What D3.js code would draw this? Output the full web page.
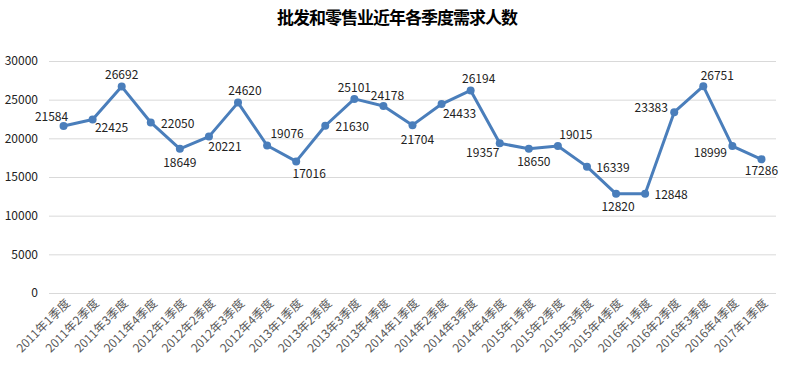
<!DOCTYPE html>
<html>
<head>
<meta charset="utf-8">
<script src="https://cdn.jsdelivr.net/npm/d3@7"></script>
<style>
  body { margin: 0; background: #fff; }
  text { font-family: "Noto Sans CJK SC", "Noto Sans", sans-serif; }
</style>
</head>
<body>
<div id="chart"></div>
<script>
// chart data
let quarters = ["2011年1季度", "2011年2季度", "2011年3季度", "2011年4季度",
    "2012年1季度", "2012年2季度", "2012年3季度", "2012年4季度",
    "2013年1季度", "2013年2季度", "2013年3季度", "2013年4季度",
    "2014年1季度", "2014年2季度", "2014年3季度", "2014年4季度",
    "2015年1季度", "2015年2季度", "2015年3季度", "2015年4季度",
    "2016年1季度", "2016年2季度", "2016年3季度", "2016年4季度",
    "2017年1季度"];
let demand = [21584, 22425, 26692, 22050, 18649, 20221, 24620, 19076, 17016,
    21630, 25101, 24178, 21704, 24433, 26194, 19357, 18650, 19015, 16339,
    12820, 12848, 23383, 26751, 18999, 17286];
let yTicks = [0, 5000, 10000, 15000, 20000, 25000, 30000];

// where each data label sits relative to its point
let labelOffsets = [[-12, -11], [19, 7], [0, -13], [27, 0], [0, 13], [16, 9],
    [7, -13], [20, -13], [13, 11], [27, 0], [0, -12], [4, -12], [5, 13],
    [18, 8], [8, -13], [-17, 8], [5, 12], [18, -12], [26, 0], [2, 12],
    [26, 0], [-23, -6], [14, -12], [-22, 5], [0, 10]];

let margin = {top: 61, right: 21, bottom: 78, left: 49},
    width = 797 - margin.left - margin.right,
    height = 371 - margin.top - margin.bottom;

let svg = d3.select("#chart")
    .append("svg")
    .attr("width", 797)
    .attr("height", 371);

// title
svg.append("text")
    .attr("x", 277)
    .attr("y", 24)
    .attr("textLength", 241)
    .attr("lengthAdjust", "spacing")
    .style("font-size", "17px")
    .style("font-weight", "bold")
    .attr("fill", "#000")
    .text("批发和零售业近年各季度需求人数");

let g = svg.append("g")
    .attr("transform", "translate(" + margin.left + "," + margin.top + ")");

let x = d3.scaleBand()
    .domain(quarters)
    .range([0, width]);

let y = d3.scaleLinear()
    .domain([0, 30000])
    .range([height, 0]);

// gridlines
g.selectAll(".grid")
    .data(yTicks)
    .enter()
    .append("line")
    .attr("x1", 0)
    .attr("x2", width)
    .attr("y1", function(d) { return y(d) + 0.5; })
    .attr("y2", function(d) { return y(d) + 0.5; })
    .attr("stroke", "#d9d9d9")
    .attr("stroke-width", 1);

// Y axis
let yAxis = g.append("g")
    .call(d3.axisLeft(y).tickValues(yTicks).tickFormat(d3.format("d")).tickSize(0).tickPadding(11));
yAxis.select(".domain").remove();
yAxis.selectAll("text")
    .style("font-size", "12px")
    .attr("fill", "#222");

// X axis
let xAxis = g.append("g")
    .attr("transform", "translate(0," + height + ")")
    .call(d3.axisBottom(x).tickSize(0));
xAxis.select(".domain").remove();
xAxis.selectAll("text")
    .style("font-size", "12px")
    .attr("fill", "#595959")
    .attr("text-anchor", "end")
    .attr("dy", 0)
    .attr("transform", "translate(5,9) rotate(-45)");

let cx = function(d, i) { return x(quarters[i]) + x.bandwidth() / 2; };

// line
g.append("path")
    .datum(demand)
    .attr("fill", "none")
    .attr("stroke", "#4a7ebb")
    .attr("stroke-width", 3)
    .attr("stroke-linejoin", "round")
    .attr("d", d3.line()
        .x(cx)
        .y(function(d) { return y(d); })
    );

// markers
g.selectAll("circle")
    .data(demand)
    .enter()
    .append("circle")
    .attr("cx", cx)
    .attr("cy", function(d) { return y(d); })
    .attr("r", 4)
    .attr("fill", "#4a7ebb");

// data labels
g.selectAll(".label")
    .data(demand)
    .enter()
    .append("text")
    .attr("class", "label")
    .attr("x", function(d, i) { return cx(d, i) + labelOffsets[i][0]; })
    .attr("y", function(d, i) { return y(d) + labelOffsets[i][1]; })
    .attr("text-anchor", "middle")
    .attr("dominant-baseline", "central")
    .style("font-size", "12px")
    .attr("fill", "#222")
    .text(function(d) { return d; });
</script>
</body>
</html>
